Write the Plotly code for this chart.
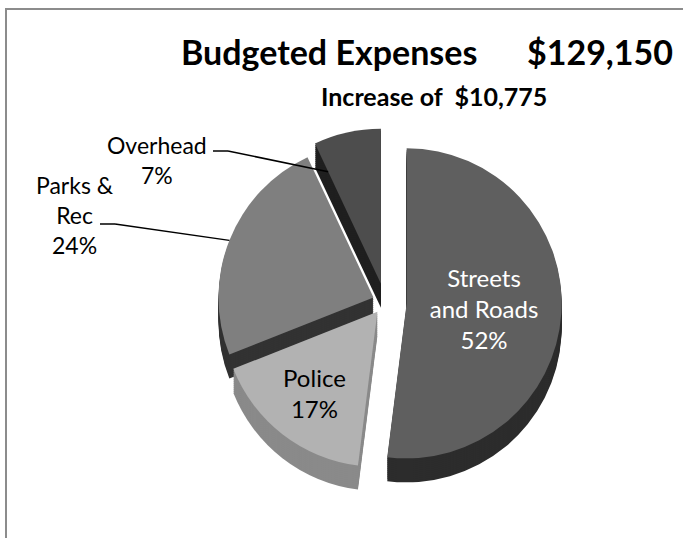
import math
import plotly.graph_objects as go

W, H = 683, 538

# ---- data ----
categories = ["Streets and Roads", "Police", "Parks & Rec", "Overhead"]
label_lines = ["Streets<br>and Roads", "Police", "Parks &<br>Rec", "Overhead"]
percent = [52, 17, 24, 7]
pull = [0.14, 0.08, 0.08, 0.12]

top_colors = ["#5f5f5f", "#b2b2b2", "#7f7f7f", "#4d4d4d"]
side_colors = ["#2c2c2c", "#8a8a8a", "#323232", "#1f1f1f"]
inside_text_colors = ["#ffffff", "#000000", "#ffffff", "#ffffff"]

title_main = "Budgeted Expenses"
title_total = "$129,150"
subtitle = "Increase of\u00a0\u00a0$10,775"

FONT = "Lato, Calibri, Carlito, sans-serif"

# ---- pie geometry (pixels) ----
CX, CY, R = 385, 302, 155
DEPTH, STEP = 24, 2
half_box = R * (1 + max(pull))


def fx(px):
    return px / W


def fy(py):
    return 1 - py / H


def pie_domain(dy):
    return dict(x=[fx(CX - half_box), fx(CX + half_box)],
                y=[fy(CY + dy + half_box), fy(CY + dy - half_box)])


def slice_point(i, radial_frac, angle_frac):
    """Pixel point inside slice i of the top face (pull included)."""
    total = sum(percent)
    start = sum(percent[:i])
    mid = (start + percent[i] / 2) / total * 2 * math.pi
    ang = (start + percent[i] * angle_frac) / total * 2 * math.pi
    px = CX + R * pull[i] * math.sin(mid) + R * radial_frac * math.sin(ang)
    py = CY - R * pull[i] * math.cos(mid) - R * radial_frac * math.cos(ang)
    return px, py


inside = [True, True, False, False]
slice_text = [f"{label_lines[i]}<br>{percent[i]}%" if inside[i] else ""
              for i in range(len(percent))]

fig = go.Figure()

# extruded sides: stacked copies of the pie, shifted downward
for d in range(DEPTH, 0, -STEP):
    fig.add_trace(go.Pie(
        labels=categories, values=percent, pull=pull, sort=False,
        direction="clockwise", rotation=0, domain=pie_domain(d),
        marker=dict(colors=side_colors, line=dict(width=0)),
        textinfo="none", hoverinfo="skip", showlegend=False,
    ))

# top faces
fig.add_trace(go.Pie(
    labels=categories, values=percent, pull=pull, sort=False,
    direction="clockwise", rotation=0, domain=pie_domain(0),
    marker=dict(colors=top_colors, line=dict(width=0)),
    text=slice_text, textinfo="text", textposition="inside",
    insidetextorientation="horizontal",
    insidetextfont=dict(family=FONT, size=24, color=inside_text_colors),
    hoverinfo="label+percent", showlegend=False,
))

annotations = [
    dict(text=f"<b>{title_main}\u00a0\u00a0\u00a0\u00a0\u00a0\u00a0{title_total}</b>",
         x=fx(179), y=fy(52), xanchor="left", yanchor="middle",
         font=dict(family=FONT, size=34, color="#000000")),
    dict(text=f"<b>{subtitle}</b>", x=fx(434), y=fy(96),
         xanchor="center", yanchor="middle",
         font=dict(family=FONT, size=25, color="#000000")),
]

# outside labels with leader lines: label centre, leader start, target in slice
outside_labels = {
    3: dict(pos=(157, 160), start=(213, 151), target=(0.8, 0.0)),
    2: dict(pos=(75, 215), start=(100, 224), target=(1.0, 0.5)),
}
shapes = [
    dict(type="rect", xref="paper", yref="paper",
         x0=fx(6), y0=-0.05, x1=1.05, y1=fy(9),
         line=dict(color="#8c8c8c", width=2), fillcolor="rgba(0,0,0,0)"),
]
for i, spec in outside_labels.items():
    annotations.append(dict(
        text=f"{label_lines[i]}<br>{percent[i]}%",
        x=fx(spec["pos"][0]), y=fy(spec["pos"][1]),
        xanchor="center", yanchor="middle", showarrow=False,
        font=dict(family=FONT, size=23, color="#000000")))
    sx, sy = spec["start"]
    kx, ky = sx + 15, sy
    tx, ty = slice_point(i, *spec["target"])
    shapes.append(dict(type="line", xref="paper", yref="paper",
                       x0=fx(sx), y0=fy(sy), x1=fx(kx), y1=fy(ky),
                       line=dict(color="#000000", width=1.5)))
    shapes.append(dict(type="line", xref="paper", yref="paper",
                       x0=fx(kx), y0=fy(ky), x1=fx(tx), y1=fy(ty),
                       line=dict(color="#000000", width=1.5)))

for a in annotations:
    a.setdefault("showarrow", False)
    a.setdefault("xref", "paper")
    a.setdefault("yref", "paper")

fig.update_layout(
    width=W, height=H,
    margin=dict(l=0, r=0, t=0, b=0),
    paper_bgcolor="#ffffff", plot_bgcolor="#ffffff",
    annotations=annotations, shapes=shapes,
    font=dict(family=FONT),
)

fig.write_html("out.html")
